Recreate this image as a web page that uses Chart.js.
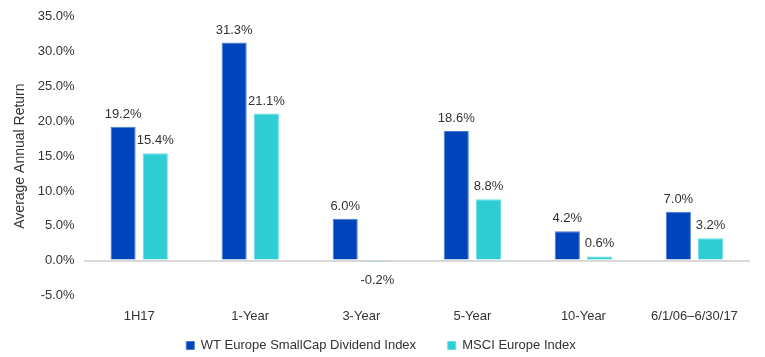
<!DOCTYPE html>
<html>
<head>
<meta charset="utf-8">
<script src="https://cdn.jsdelivr.net/npm/chart.js@4"></script>
<style>
  html, body { margin: 0; padding: 0; background: #fff; }
  #wrap { width: 765px; height: 357px; }
</style>
</head>
<body>
<div id="wrap"><canvas id="chart"></canvas></div>
<script>
// chart data
const categories = ['1H17', '1-Year', '3-Year', '5-Year', '10-Year', '6/1/06\u20136/30/17'];
const wtValues = [19.2, 31.3, 6.0, 18.6, 4.2, 7.0];
const msciValues = [15.4, 21.1, -0.2, 8.8, 0.6, 3.2];
const seriesNames = ['WT Europe SmallCap Dividend Index', 'MSCI Europe Index'];

const FONT = 'Liberation Sans, Arial, sans-serif';
const TEXT = '#333333';

// draws the value above (or below, when negative) each bar
const valueLabels = {
    id: 'valueLabels',
    afterDatasetsDraw(chart) {
        const ctx = chart.ctx;
        ctx.save();
        ctx.font = '13px ' + FONT;
        ctx.fillStyle = TEXT;
        ctx.textAlign = 'center';
        chart.data.datasets.forEach((ds, i) => {
            chart.getDatasetMeta(i).data.forEach((bar, j) => {
                const v = ds.data[j];
                if (v >= 0) {
                    ctx.textBaseline = 'bottom';
                    ctx.fillText(v.toFixed(1) + '%', bar.x, bar.y - 6);
                } else {
                    ctx.textBaseline = 'top';
                    ctx.fillText(v.toFixed(1) + '%', bar.x, bar.y + 12);
                }
            });
        });
        ctx.restore();
    }
};

new Chart(document.getElementById('chart'), {
    type: 'bar',
    data: {
        labels: categories,
        datasets: [
            {
                label: seriesNames[0],
                data: wtValues,
                backgroundColor: '#0044BB',
                borderColor: '#4A7BD0',
                borderWidth: 1,
                categoryPercentage: 0.58,
                barPercentage: 0.78
            },
            {
                label: seriesNames[1],
                data: msciValues,
                backgroundColor: '#2ECCD3',
                borderColor: '#6ADDE2',
                borderWidth: 1,
                categoryPercentage: 0.58,
                barPercentage: 0.78
            }
        ]
    },
    options: {
        responsive: true,
        maintainAspectRatio: false,
        animation: false,
        layout: { padding: { top: 10, right: 15, left: 12, bottom: -5 } },
        plugins: {
            legend: {
                position: 'bottom',
                labels: {
                    font: { family: FONT, size: 13 },
                    color: TEXT,
                    usePointStyle: true,
                    pointStyle: 'rect',
                    boxWidth: 8,
                    boxHeight: 8,
                    padding: 10,
                    // extra room after the first entry, like the original legend
                    generateLabels: chart => Chart.defaults.plugins.legend.labels.generateLabels(chart)
                        .map((l, i) => i === 0 ? Object.assign(l, { text: l.text + '      ' }) : l)
                }
            },
            tooltip: { enabled: false }
        },
        scales: {
            x: {
                grid: { display: false },
                border: { display: false },
                ticks: {
                    font: { family: FONT, size: 13 },
                    color: TEXT,
                    padding: 5,
                    maxRotation: 0
                }
            },
            y: {
                min: -5,
                max: 35,
                ticks: {
                    stepSize: 5,
                    font: { family: FONT, size: 13 },
                    color: TEXT,
                    padding: 9,
                    callback: v => v.toFixed(1) + '%'
                },
                grid: {
                    drawTicks: false,
                    lineWidth: 2,
                    color: c => c.tick && c.tick.value === 0 ? '#D9D9D9' : 'rgba(0,0,0,0)'
                },
                border: { display: false },
                title: {
                    display: true,
                    text: 'Average Annual Return',
                    font: { family: FONT, size: 14 },
                    color: TEXT,
                    padding: { top: 0, bottom: 0 }
                }
            }
        }
    },
    plugins: [valueLabels]
});
</script>
</body>
</html>
